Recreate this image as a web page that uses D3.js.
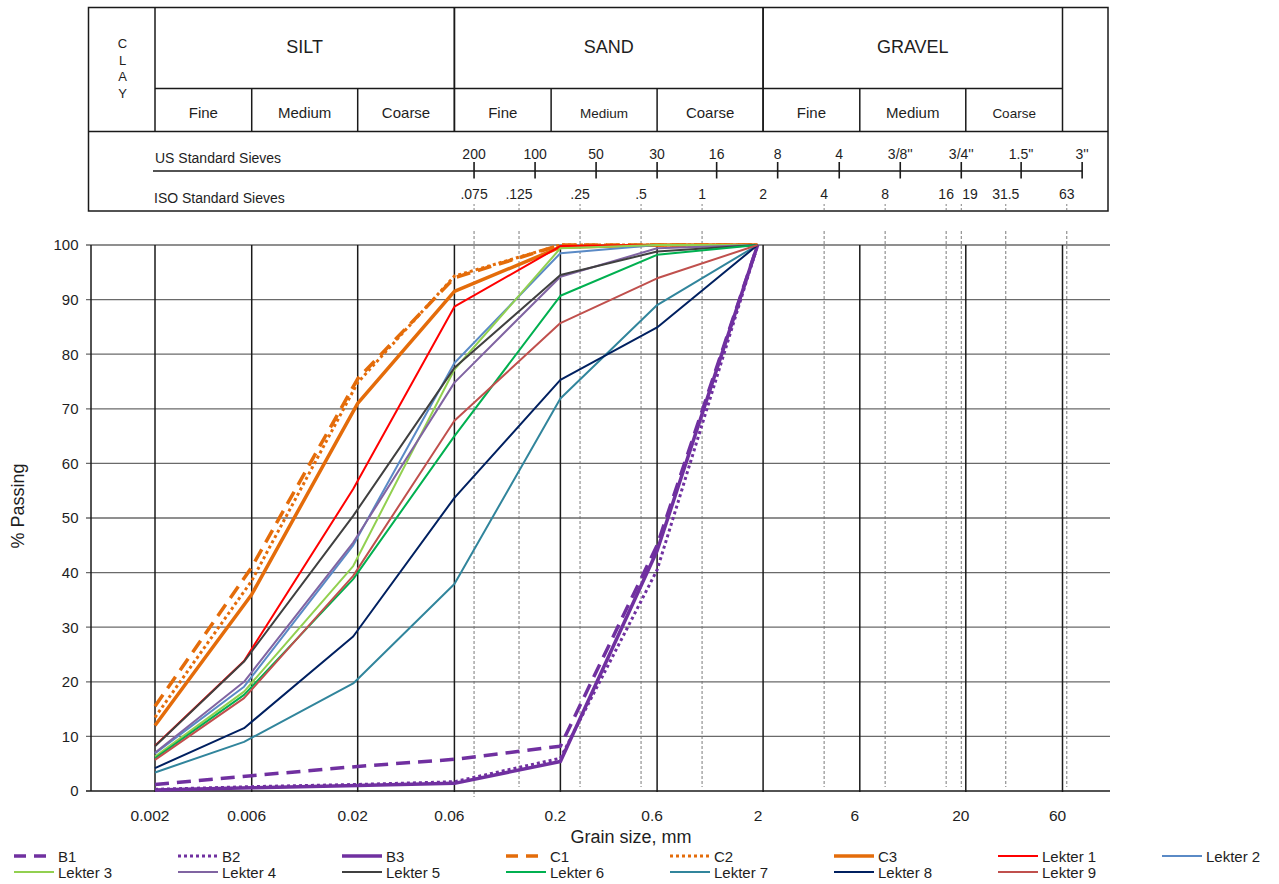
<!DOCTYPE html>
<html><head><meta charset="utf-8">
<script src="https://cdn.jsdelivr.net/npm/d3@7"></script>
<style>
body{margin:0;background:#fff;}
svg text{font-family:"Liberation Sans", Arial, sans-serif;fill:#1e1e1e;}
</style></head><body>
<svg id="chart" width="1279" height="884"></svg>
<script>
// ---------------- DATA ----------------
const sizesLab = [0.002, 0.0055, 0.019, 0.06, 0.2, 0.6, 1.88];   // mm (Lekter samples)
const sizesBC  = [0.002, 0.006, 0.02, 0.06, 0.2, 0.6, 1.88];     // mm (B / C samples)

const B1 = [1.2, 2.8, 4.5, 5.8, 8.2, 45, 100];
const B2 = [0.3, 0.8, 1.2, 1.7, 6.0, 40.5, 100];
const B3 = [0.2, 0.6, 1.0, 1.4, 5.4, 44, 100];
const C1 = [15.5, 41, 75.5, 94, 100, 100, 100];
const C2 = [13.5, 38.5, 74.8, 94.3, 100, 100, 100];
const C3 = [12, 36, 71, 91.5, 99.6, 100, 100];
const L1 = [8.3, 23.8, 55.3, 88.7, 99.8, 100, 100];
const L2 = [6.9, 19.1, 45.0, 78.4, 98.5, 100, 100];
const L3 = [6.3, 18.2, 41.2, 77.2, 99.4, 100, 100];
const L4 = [7.0, 20.0, 45.5, 74.8, 94.2, 99.4, 100];
const L5 = [8.2, 23.7, 50.4, 77.5, 94.5, 98.8, 100];
const L6 = [6.0, 17.6, 38.8, 65.0, 90.7, 98.2, 100];
const L7 = [3.4, 9.0, 19.7, 37.9, 71.9, 89.0, 100];
const L8 = [4.2, 11.5, 28.3, 53.7, 75.3, 84.9, 100];
const L9 = [5.7, 17.0, 39.4, 67.8, 85.7, 93.9, 100];

const seriesNames = ["B1","B2","B3","C1","C2","C3","Lekter 1","Lekter 2","Lekter 3",
                     "Lekter 4","Lekter 5","Lekter 6","Lekter 7","Lekter 8","Lekter 9"];
const seriesValues = [B1,B2,B3,C1,C2,C3,L1,L2,L3,L4,L5,L6,L7,L8,L9];

const gridSizes  = [0.002, 0.006, 0.02, 0.06, 0.2, 0.6, 2, 6, 20, 60];
const gridLabels = ["0.002","0.006","0.02","0.06","0.2","0.6","2","6","20","60"];
const yTicks = [0,10,20,30,40,50,60,70,80,90,100];

const usSieveLabels = ["200","100","50","30","16","8","4","3/8''","3/4''","1.5''","3''"];
const usSieveMM     = [0.075, 0.15, 0.3, 0.6, 1.18, 2.36, 4.75, 9.5, 19, 37.5, 75];
const isoSieveLabels = [".075",".125",".25",".5","1","2","4","8","16","19","31.5","63"];
const isoSieveMM     = [0.075, 0.125, 0.25, 0.5, 1, 2, 4, 8, 16, 19, 31.5, 63];

const soilClasses = ["SILT","SAND","GRAVEL"];
const soilBounds  = [[0.002,0.06],[0.06,2],[2,60]];
const subClasses  = ["Fine","Medium","Coarse"];

// ---------------- STYLES ----------------
const purple="#7030A0", orange="#E46C0A";
const styleOf = {
  "B1":{c:purple,w:3.5,d:"14,8"}, "B2":{c:purple,w:3,d:"3,3"}, "B3":{c:purple,w:3.5,d:null},
  "C1":{c:orange,w:3.5,d:"14,8"}, "C2":{c:orange,w:3,d:"3,3"}, "C3":{c:orange,w:3.5,d:null},
  "Lekter 1":{c:"#FF0000",w:2}, "Lekter 2":{c:"#5A8AC6",w:2}, "Lekter 3":{c:"#92D050",w:2},
  "Lekter 4":{c:"#8064A2",w:2}, "Lekter 5":{c:"#404040",w:2}, "Lekter 6":{c:"#00B050",w:2},
  "Lekter 7":{c:"#31859C",w:2}, "Lekter 8":{c:"#002060",w:2}, "Lekter 9":{c:"#C0504D",w:2}
};

// ---------------- LAYOUT ----------------
const svg = d3.select("#chart");
const L=91, R=1110, T=245, B=791;
const x = d3.scaleLog().domain([0.002,60]).range([155,1062.5]);
const y = d3.scaleLinear().domain([0,100]).range([B,T]);
const ink="#1a1a1a";

// ---------- header ----------
const hd = svg.append("g");
const hTop=7.5, hMid=88.5, hSub=131.5, hBot=211, hL=88.5, hR=1108;
hd.append("rect").attr("x",hL).attr("y",hTop).attr("width",hR-hL).attr("height",hBot-hTop)
  .attr("fill","none").attr("stroke",ink).attr("stroke-width",1.5);
hd.append("line").attr("x1",x(0.002)).attr("x2",x(60)).attr("y1",hMid).attr("y2",hMid)
  .attr("stroke",ink).attr("stroke-width",1.5);
hd.append("line").attr("x1",hL).attr("x2",hR).attr("y1",hSub).attr("y2",hSub)
  .attr("stroke",ink).attr("stroke-width",1.5);
soilBounds.forEach((b,i)=>{
  [b[0],b[1]].forEach(v=>hd.append("line").attr("x1",x(v)).attr("x2",x(v)).attr("y1",hTop).attr("y2",hSub)
      .attr("stroke",ink).attr("stroke-width",1.5));
  hd.append("text").attr("x",(x(b[0])+x(b[1]))/2).attr("y",53).attr("text-anchor","middle")
    .attr("font-size",18).text(soilClasses[i]);
  // sub-classes: thirds in log space
  const l0=Math.log10(b[0]), l1=Math.log10(b[1]);
  const edges=[b[0], b[0]*3, b[0]*10, b[1]];
  for(let k=0;k<3;k++){
    if(k>0) hd.append("line").attr("x1",x(edges[k])).attr("x2",x(edges[k])).attr("y1",hMid).attr("y2",hSub)
       .attr("stroke",ink).attr("stroke-width",1.5);
    const small = (i===1&&k===1)||(i===2&&k===2);
    hd.append("text").attr("x",(x(edges[k])+x(edges[k+1]))/2).attr("y",117.5).attr("text-anchor","middle")
      .attr("font-size", small?13.5:15).text(subClasses[k]);
  }
});
["C","L","A","Y"].forEach((ch,i)=>hd.append("text").attr("x",122.5).attr("y",48+i*16.7)
  .attr("text-anchor","middle").attr("font-size",13).text(ch));

// US sieves
hd.append("text").attr("x",155).attr("y",162.5).attr("font-size",14).text("US Standard Sieves");
hd.append("line").attr("x1",153).attr("x2",x(75)).attr("y1",171).attr("y2",171).attr("stroke",ink).attr("stroke-width",1.3);
usSieveMM.forEach((d,i)=>{
  hd.append("line").attr("x1",x(d)).attr("x2",x(d)).attr("y1",162).attr("y2",178.5).attr("stroke",ink).attr("stroke-width",1.6);
  hd.append("text").attr("x",x(d)).attr("y",159).attr("text-anchor","middle").attr("font-size",14).text(usSieveLabels[i]);
});
// ISO sieves
hd.append("text").attr("x",154).attr("y",202.5).attr("font-size",14).text("ISO Standard Sieves");
isoSieveMM.forEach((d,i)=>{
  const lab=isoSieveLabels[i];
  hd.append("text").attr("x",lab==="19"?x(d)+1:x(d)).attr("y",199)
    .attr("text-anchor",lab==="19"?"start":"middle").attr("font-size",14).text(lab);
  if(d!==2) hd.append("line").attr("x1",x(d)).attr("x2",x(d)).attr("y1",204).attr("y2",211)
     .attr("stroke","#808080").attr("stroke-width",1).attr("stroke-dasharray","2,2");
});

// ---------- plot grid ----------
const g = svg.append("g");
// dashed ISO sieve lines
isoSieveMM.filter(d=>d!==2).forEach(d=>{
  g.append("line").attr("x1",x(d)).attr("x2",x(d)).attr("y1",231).attr("y2",d===0.075?797:787)
   .attr("stroke","#7a7a7a").attr("stroke-width",1).attr("stroke-dasharray","3,2");
});
// horizontal gridlines
yTicks.forEach(v=>{
  g.append("line").attr("x1",86).attr("x2",R).attr("y1",y(v)).attr("y2",y(v))
   .attr("stroke", v===0?ink:"#6a6a6a").attr("stroke-width", v===0?1.5:1.3);
});
// vertical gridlines
gridSizes.forEach(d=>{
  g.append("line").attr("x1",x(d)).attr("x2",x(d)).attr("y1",T).attr("y2",B+1)
   .attr("stroke",ink).attr("stroke-width",1.5);
});
// y axis line
g.append("line").attr("x1",L).attr("x2",L).attr("y1",T).attr("y2",B).attr("stroke",ink).attr("stroke-width",1.5);

// y tick labels via d3 axis
const yAxis = d3.axisLeft(y).tickValues(yTicks).tickSize(0).tickPadding(0);
const ya = svg.append("g").attr("transform","translate(78.5,0)").call(yAxis);
ya.select(".domain").remove();
ya.selectAll("text").attr("font-size",15).attr("font-family","Liberation Sans, Arial, sans-serif").attr("fill","#1e1e1e");

// x tick labels
gridSizes.forEach((d,i)=>{
  svg.append("text").attr("x",x(d)-5).attr("y",821).attr("text-anchor","middle").attr("font-size",15.5).text(gridLabels[i]);
});

// axis titles
svg.append("text").attr("x",631).attr("y",843).attr("text-anchor","middle").attr("font-size",18).text("Grain size, mm");
svg.append("text").attr("transform","translate(24,506) rotate(-90)").attr("text-anchor","middle").attr("font-size",18).text("% Passing");

// ---------- series ----------
const line = d3.line().x(d=>x(d[0])).y(d=>y(d[1]));
seriesNames.forEach((name,i)=>{
  const s=styleOf[name];
  const xs = name.startsWith("Lekter") ? sizesLab : sizesBC;
  const pts = xs.map((sz,k)=>[sz, seriesValues[i][k]]);
  g.append("path").attr("d",line(pts)).attr("fill","none").attr("stroke",s.c).attr("stroke-width",s.w)
   .attr("stroke-dasharray",s.d||null).attr("stroke-linejoin","round");
});

// ---------- legend ----------
const lg = svg.append("g");
seriesNames.forEach((name,i)=>{
  const s=styleOf[name];
  const col = i<8 ? i : i-8, row = i<8 ? 0 : 1;
  const x0 = 14 + col*164, yy = 856 + row*16;
  lg.append("line").attr("x1",x0).attr("x2",x0+40).attr("y1",yy).attr("y2",yy)
    .attr("stroke",s.c).attr("stroke-width",s.w).attr("stroke-dasharray",s.d? (s.d==="3,3"?"3,3":"12,8"):null);
  lg.append("text").attr("x",x0+44).attr("y",yy+5.5).attr("font-size",15).text(name);
});
</script>
</body></html>
